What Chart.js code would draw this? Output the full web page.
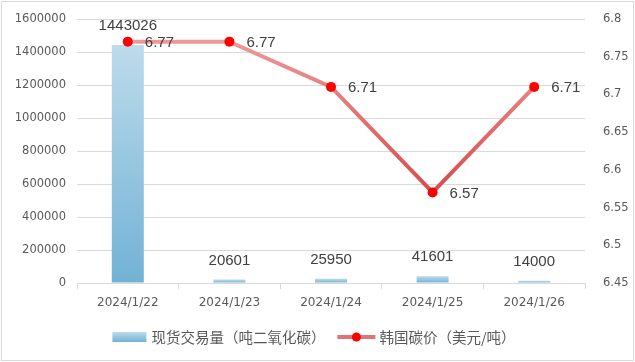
<!DOCTYPE html>
<html>
<head>
<meta charset="utf-8">
<script src="https://cdn.jsdelivr.net/npm/chart.js@4.4.1/dist/chart.umd.min.js"></script>
<style>
    html, body { margin: 0; padding: 0; background: #ffffff; }
    #wrap { position: relative; width: 635px; height: 362px; }
</style>
</head>
<body>
<div id="wrap"><canvas id="carbonChart" width="635" height="362"></canvas></div>
<script>
// Chart data
const dates = ['2024/1/22', '2024/1/23', '2024/1/24', '2024/1/25', '2024/1/26'];
const spotVolume = [1443026, 20601, 25950, 41601, 14000];
const koreaPrice = [6.77, 6.77, 6.71, 6.57, 6.71];
const volumeLabel = '现货交易量（吨二氧化碳）';
const priceLabel = '韩国碳价（美元/吨）';

const tickColor = '#595959';
const gridColor = '#d9d9d9';
const labelColor = '#404040';

// per-bar vertical gradient
function barGradient(context) {
    const chart = context.chart;
    const area = chart.chartArea;
    if (!area || context.dataIndex === undefined) return '#8ec3df';
    const y = chart.scales.y;
    const top = y.getPixelForValue(spotVolume[context.dataIndex]);
    const bottom = y.getPixelForValue(0);
    const g = chart.ctx.createLinearGradient(0, top, 0, Math.max(bottom, top + 1));
    g.addColorStop(0, '#bddbeb');
    g.addColorStop(1, '#72b2d5');
    return g;
}

function lineGradient(context) {
    const chart = context.chart;
    const area = chart.chartArea;
    if (!area) return '#e27070';
    const g = chart.ctx.createLinearGradient(0, area.top, 0, area.bottom);
    g.addColorStop(0, '#f0a4a4');
    g.addColorStop(0.65, '#d84c4c');
    g.addColorStop(1, '#d84040');
    return g;
}

// value labels on bars and points
const valueLabels = {
    id: 'valueLabels',
    afterDatasetsDraw(chart) {
        const ctx = chart.ctx;
        ctx.save();
        ctx.fillStyle = labelColor;
        ctx.font = '15px "Liberation Sans", Arial, sans-serif';
        ctx.textBaseline = 'middle';

        const barMeta = chart.getDatasetMeta(0);
        ctx.textAlign = 'center';
        barMeta.data.forEach((bar, i) => {
            ctx.fillText(String(spotVolume[i]), bar.x, bar.y - 19);
        });

        const lineMeta = chart.getDatasetMeta(1);
        ctx.textAlign = 'left';
        lineMeta.data.forEach((pt, i) => {
            ctx.fillText(koreaPrice[i].toFixed(2), pt.x + 17, pt.y + 1);
        });
        ctx.restore();
    }
};

// bottom legend and outer frame
const legendAndFrame = {
    id: 'legendAndFrame',
    afterDraw(chart) {
        const ctx = chart.ctx;
        ctx.save();

        ctx.strokeStyle = '#d9d9d9';
        ctx.lineWidth = 1;
        ctx.strokeRect(1.5, 1.5, 632, 359);

        ctx.font = '14.5px "Noto Sans CJK SC", sans-serif';
        ctx.textBaseline = 'middle';
        ctx.textAlign = 'left';
        const w1 = ctx.measureText(volumeLabel).width;
        const w2 = ctx.measureText(priceLabel).width;
        const total = 34 + 5 + w1 + 12 + 38 + 4 + w2;
        let x = 314 - total / 2;
        const cy = 337;

        // bar icon
        const g = ctx.createLinearGradient(0, cy - 5, 0, cy + 5);
        g.addColorStop(0, '#bddbeb');
        g.addColorStop(1, '#72b2d5');
        ctx.fillStyle = g;
        ctx.fillRect(x, cy - 5, 34, 10);
        x += 34 + 5;
        ctx.fillStyle = tickColor;
        ctx.fillText(volumeLabel, x, cy);
        x += w1 + 12;

        // line icon
        ctx.strokeStyle = '#e07474';
        ctx.lineWidth = 4;
        ctx.beginPath();
        ctx.moveTo(x, cy);
        ctx.lineTo(x + 38, cy);
        ctx.stroke();
        ctx.fillStyle = '#ff0000';
        ctx.beginPath();
        ctx.arc(x + 19, cy, 4.5, 0, Math.PI * 2);
        ctx.fill();
        x += 38 + 4;
        ctx.fillStyle = tickColor;
        ctx.fillText(priceLabel, x, cy);

        ctx.restore();
    }
};

const ctx = document.getElementById('carbonChart').getContext('2d');
new Chart(ctx, {
    type: 'bar',
    data: {
        labels: dates,
        datasets: [{
            label: volumeLabel,
            data: spotVolume,
            yAxisID: 'y',
            backgroundColor: barGradient,
            borderWidth: 0,
            categoryPercentage: 1,
            barPercentage: 0.315,
            order: 1
        }, {
            type: 'line',
            label: priceLabel,
            data: koreaPrice,
            yAxisID: 'y1',
            borderColor: lineGradient,
            borderWidth: 4,
            tension: 0,
            pointRadius: 5,
            pointBackgroundColor: '#ff0000',
            pointBorderColor: '#ff0000',
            pointBorderWidth: 0,
            order: 0
        }]
    },
    options: {
        responsive: false,
        animation: false,
        devicePixelRatio: 1,
        layout: { padding: { top: 19, left: 0, right: 0, bottom: 0 } },
        plugins: {
            legend: { display: false },
            tooltip: { enabled: false }
        },
        scales: {
            x: {
                offset: true,
                grid: {
                    offset: true,
                    drawOnChartArea: false,
                    drawTicks: true,
                    tickLength: 6,
                    color: gridColor
                },
                border: { display: true, color: gridColor },
                ticks: {
                    color: tickColor,
                    font: { family: '"DejaVu Sans", sans-serif', size: 12 },
                    padding: 7,
                    maxRotation: 0
                },
                afterFit(scale) { scale.height = 79; }
            },
            y: {
                position: 'left',
                min: 0,
                max: 1600000,
                grid: { color: gridColor, drawTicks: false },
                border: { display: false },
                ticks: {
                    stepSize: 200000,
                    color: tickColor,
                    padding: 11,
                    font: { family: '"DejaVu Sans", sans-serif', size: 11.5 },
                    callback: v => String(v)
                },
                afterFit(scale) { scale.width = 77; }
            },
            y1: {
                position: 'right',
                min: 6.45,
                max: 6.8,
                grid: { display: false, drawOnChartArea: false },
                border: { display: false },
                ticks: {
                    stepSize: 0.05,
                    color: tickColor,
                    padding: 10,
                    font: { family: '"DejaVu Sans", sans-serif', size: 11.5 },
                    callback: v => String(Number(v.toFixed(2)))
                },
                afterFit(scale) { scale.width = 50; }
            }
        }
    },
    plugins: [valueLabels, legendAndFrame]
});
</script>
</body>
</html>
